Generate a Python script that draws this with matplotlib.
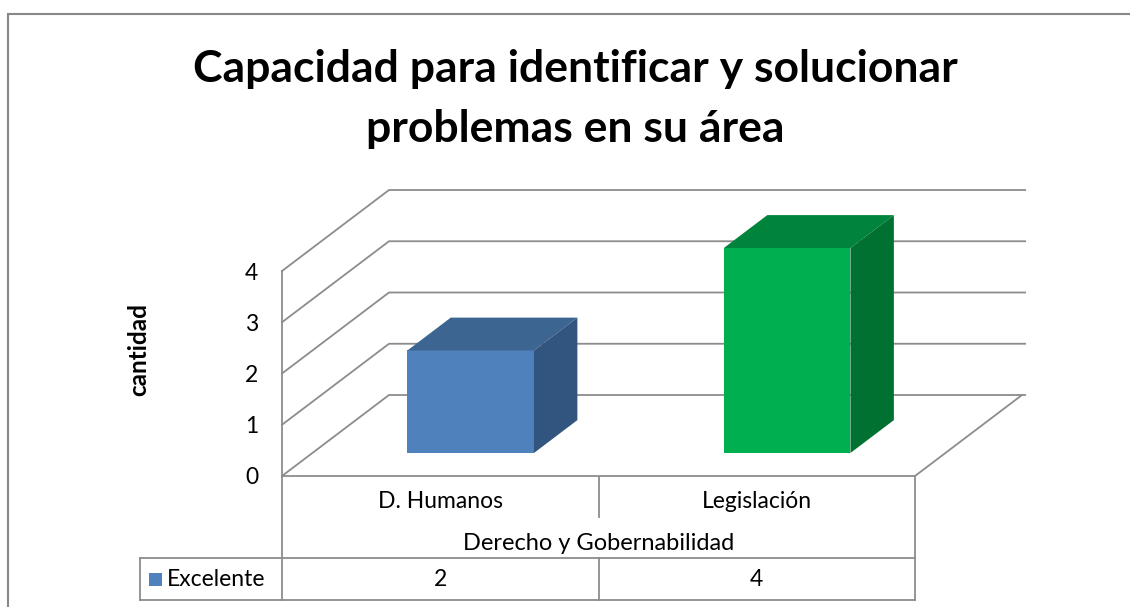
import matplotlib.pyplot as plt
import numpy as np
from matplotlib.patches import Polygon, Rectangle
from matplotlib.lines import Line2D
from matplotlib.transforms import blended_transform_factory

plt.rcParams['font.family'] = ['Lato', 'DejaVu Sans']

title = 'Capacidad para identificar y solucionar\nproblemas en su área'
categories = ['D. Humanos', 'Legislación']
group_label = 'Derecho y Gobernabilidad'
series_name = 'Excelente'
values = [2, 4]
yticks = [0, 1, 2, 3, 4]
ylabel = 'cantidad'

front = ['#4F81BD', '#00B050']
top = ['#3D6592', '#00843C']
side = ['#325580', '#007131']
grid_c = '#8C8C8C'

W, H = 1130, 607
fig = plt.figure(figsize=(W / 100, H / 100), dpi=100)

def fx(px):
    return px / W

def fy(py):
    return (H - py) / H

# front plane of the 3d box = the axes
ax = fig.add_axes([fx(282), fy(476), fx(915) - fx(282), fy(271) - fy(476)])
ax.set_xlim(0, len(categories))
ax.set_ylim(0, max(yticks))
for s in ax.spines.values():
    s.set_visible(False)
ax.set_xticks([])
ax.set_yticks(yticks)
ax.set_yticklabels([str(t) for t in yticks], fontsize=16.5)
ax.tick_params(axis='y', length=0, pad=17)
ax.patch.set_alpha(0)

# depth offsets (in data units per unit depth)
ddx = 107 / 316.5
ddy = 81 / 51.25
nx = len(categories)
back_end = nx + 0.01

# walls + floor
for t in yticks:
    ax.plot([0, ddx, ddx + back_end], [t, t + ddy, t + ddy], color=grid_c, lw=1.3, clip_on=False, zorder=1)
ax.plot([0, 0], [0, max(yticks)], color=grid_c, lw=1.3, clip_on=False, zorder=1)
ax.plot([0, nx, nx + ddx], [0, 0, ddy], color=grid_c, lw=1.3, clip_on=False, zorder=1)

# bars
bw = 0.4
d0, d1 = 0.284, 0.69
for i, v in enumerate(values):
    x0 = i + 0.5 - bw / 2 + d0 * ddx
    x1 = x0 + bw
    y0 = d0 * ddy
    y1 = y0 + v
    ex = (d1 - d0) * ddx
    ey = (d1 - d0) * ddy
    ax.add_patch(Polygon([(x0, y0), (x1, y0), (x1, y1), (x0, y1)], closed=True,
                         fc=front[i], ec='none', clip_on=False, zorder=3))
    ax.add_patch(Polygon([(x0, y1), (x1, y1), (x1 + ex, y1 + ey), (x0 + ex, y1 + ey)], closed=True,
                         fc=top[i], ec='none', clip_on=False, zorder=3))
    ax.add_patch(Polygon([(x1, y0), (x1 + ex, y0 + ey), (x1 + ex, y1 + ey), (x1, y1)], closed=True,
                         fc=side[i], ec='none', clip_on=False, zorder=3))

# data table below
tb = blended_transform_factory(ax.transData, fig.transFigure)
tab_c = '#8C8C8C'
rows = [477, 517, 558, 600]
for xb in [0, nx]:
    fig.add_artist(Line2D([xb, xb], [fy(rows[0]), fy(rows[3])], transform=tb, color=tab_c, lw=1.3))
for k in range(1, nx):
    fig.add_artist(Line2D([k, k], [fy(rows[0]), fy(rows[1])], transform=tb, color=tab_c, lw=1.3))
    fig.add_artist(Line2D([k, k], [fy(rows[2]), fy(rows[3])], transform=tb, color=tab_c, lw=1.3))
fig.add_artist(Line2D([fx(140), fx(915)], [fy(rows[2]), fy(rows[2])], color=tab_c, lw=1.3))
fig.add_artist(Line2D([fx(140), fx(915)], [fy(rows[3]), fy(rows[3])], color=tab_c, lw=1.3))
fig.add_artist(Line2D([fx(140), fx(140)], [fy(rows[2]), fy(rows[3])], color=tab_c, lw=1.3))

fs = 16.5
for i, c in enumerate(categories):
    fig.text(i + 0.5, fy(502), c, transform=tb, ha='center', va='center', fontsize=fs)
    fig.text(i + 0.5, fy(579), str(values[i]), transform=tb, ha='center', va='center', fontsize=fs)
fig.text(nx / 2, fy(544), group_label, transform=tb, ha='center', va='center', fontsize=17)

fig.add_artist(Rectangle((fx(149), fy(586)), fx(13), 13 / H, fc=front[0], ec='none'))
fig.text(fx(167), fy(579), series_name, ha='left', va='center', fontsize=fs)

fig.text(fx(139), fy(350), ylabel, rotation=90, ha='center', va='center', fontsize=17.5, fontweight='bold')
fig.text(fx(575), fy(99), title, ha='center', va='center', fontsize=32, fontweight='bold', linespacing=1.58)

# chart border
fig.add_artist(Line2D([fx(8), fx(8)], [fy(14), 0], color='#888888', lw=1.5))
fig.add_artist(Line2D([fx(8), 1], [fy(14), fy(14)], color='#888888', lw=1.5))

fig.savefig('out.png', dpi=100)
